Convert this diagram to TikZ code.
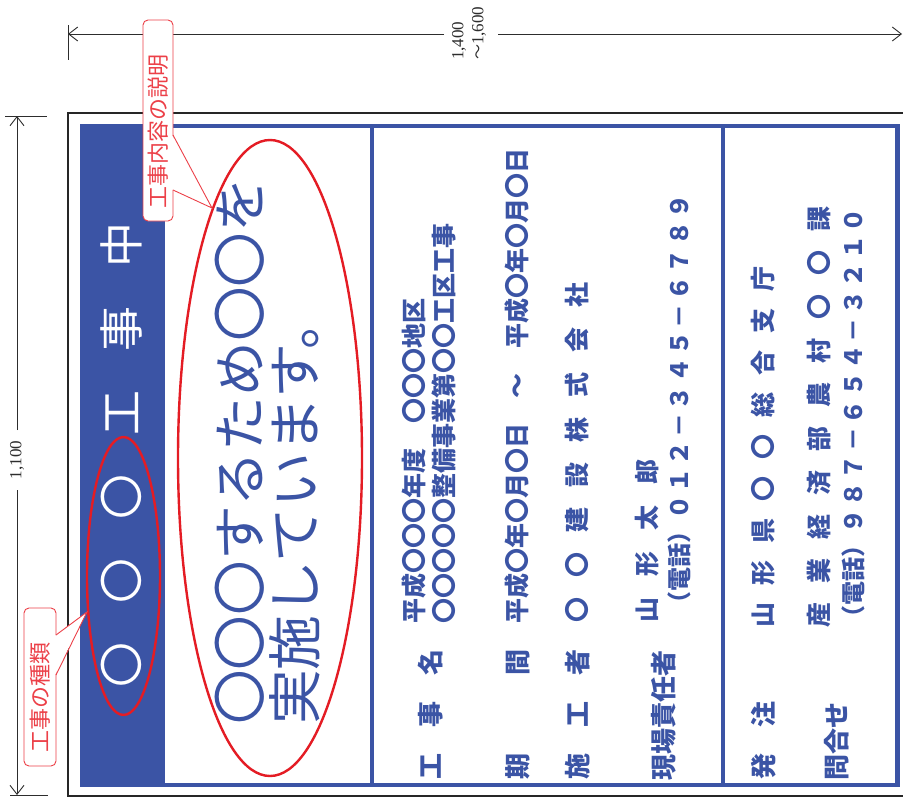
\documentclass[tikz,border=0pt]{standalone}
\usepackage{fontspec}
\setmainfont{Liberation Serif}
\newfontfamily\jp{Noto Sans CJK JP}
\usetikzlibrary{arrows.meta}
\definecolor{signblue}{RGB}{59,84,165}
\definecolor{markred}{RGB}{228,28,36}
\definecolor{callred}{RGB}{236,64,72}
\definecolor{dimgray}{RGB}{45,45,45}
\newcommand\fsz[1]{\fontsize{#1}{#1}\selectfont}
\newcommand\gapw[1]{\hspace{#1pt}}
\begin{document}
\begin{tikzpicture}[x=1pt,y=-1pt,
  dimline/.style={draw=dimgray,line width=0.9pt},
  dimtip/.style={dimline,-{Straight Barb[length=9pt,width=14pt]}},
  dimtext/.style={rotate=90,inner sep=0pt,text=dimgray,font=\fontsize{17}{20}\selectfont},
  rottxt/.style={rotate=90,anchor=base west,inner sep=0pt},
  labtxt/.style={rottxt,text=signblue,font=\jp\bfseries\fsz{26}},
  valtxt/.style={rottxt,text=signblue,font=\jp\bfseries\fsz{25}},
  teltxt/.style={rottxt,text=signblue,font=\jp\bfseries\fsz{24}},
  callbox/.style={draw=callred,fill=white,line width=0.9pt,rounded corners=5pt},
  calltext/.style={rotate=90,inner sep=0pt,text=callred,font=\jp\fsz{22}},
  redmark/.style={draw=markred,line width=2.4pt}
]
\useasboundingbox (0,0) rectangle (903,798);
\fill[white] (0,0) rectangle (903,798);

% outer black frame
\draw[line width=1.1pt,black!85] (910,113) -- (68,113) -- (68,796) -- (910,796);

% sign
\fill[signblue] (80,124) rectangle (165,787);
\draw[signblue,line width=4.2pt] (82,126) rectangle (897.5,785);
\draw[signblue,line width=4pt] (372,126) -- (372,785);
\draw[signblue,line width=4pt] (723,126) -- (723,785);

% title in blue bar
\node[rottxt,text=white,font=\jp\fsz{45}] (title) at (138,688)
  {〇\gapw{39}〇\gapw{39}〇\gapw{39}工\gapw{39}事\gapw{39}中};

% description
\node[rottxt,text=signblue,font=\jp\fsz{54.7}] (desc1) at (260.8,725) {〇〇〇するため〇〇を};
\node[rottxt,text=signblue,font=\jp\fsz{54.7}] (desc2) at (315.8,725) {実施しています。};

% table labels
\node[labtxt] (l1) at (440,780) {工　事　名};
\node[labtxt] (l2) at (527,780) {期　　　間};
\node[labtxt] (l3) at (587,780) {施　工　者};
\node[labtxt] (l4) at (673,781) {現場責任者};
\node[labtxt] (l5) at (773,780) {発　注};
\node[labtxt] (l6) at (846,781) {問合せ};

% table values
\node[valtxt] (v1a) at (423.5,624) {平成〇〇〇年度　〇〇〇地区};
\node[valtxt] (v1b) at (453.5,624) {〇〇〇〇〇整備事業第〇〇工区工事};
\node[valtxt] (v2) at (526.5,624) {平成〇年〇月〇日　～　平成〇年〇月〇日};
\node[valtxt] (v3) at (586.5,623) {〇\gapw{20}〇\gapw{20}建\gapw{20}設\gapw{20}株\gapw{20}式\gapw{20}会\gapw{20}社};
\node[valtxt] (v4) at (656.5,623) {山\gapw{21}形\gapw{21}太\gapw{21}郎};
\node[teltxt] (t4) at (688,616) {（電話）０\gapw{3.4}１\gapw{3.4}２\gapw{3.4}－\gapw{3.4}３\gapw{3.4}４\gapw{3.4}５\gapw{3.4}－\gapw{3.4}６\gapw{3.4}７\gapw{3.4}８\gapw{3.4}９};
\node[valtxt] (v5) at (772.5,628) {山\gapw{17}形\gapw{17}県\gapw{17}〇\gapw{17}〇\gapw{17}総\gapw{17}合\gapw{17}支\gapw{17}庁};
\node[valtxt] (v6a) at (828.5,628) {産\gapw{19}業\gapw{19}経\gapw{19}済\gapw{19}部\gapw{19}農\gapw{19}村\gapw{19}〇\gapw{19}〇\gapw{19}課};
\node[teltxt] (t6) at (862,630) {（電話）９\gapw{3.4}８\gapw{3.4}７\gapw{3.4}－\gapw{3.4}６\gapw{3.4}５\gapw{3.4}４\gapw{3.4}－\gapw{3.4}３\gapw{3.4}２\gapw{3.4}１\gapw{3.4}０};

% red marks
\draw[redmark] (123.5,576) ellipse [x radius=36.5pt,y radius=139pt];
\draw[redmark] (270,458) ellipse [x radius=92pt,y radius=318pt];

% width dimension
\coordinate (wl) at (68,34);
\coordinate (wr) at (902,34);
\draw[dimline] (68,25) -- (68,60);
\node[dimtext,align=left,anchor=west] (wlab) at (469,60) {1,400\\{\jp\fontsize{15}{20}\selectfont ～}1,600};
\draw[dimtip] (444,34) -- (wl);
\draw[dimtip] (498,34) -- (wr);

% height dimension
\coordinate (ht) at (17,116);
\coordinate (hb) at (17,795);
\draw[dimline] (5,116) -- (47,116);
\draw[dimline] (10,795) -- (48,795);
\node[dimtext] (hlab) at (17,460) {1,100};
\draw[dimtip] (17,430) -- (ht);
\draw[dimtip] (17,490) -- (hb);

% callout: work content
\draw[callbox] (143,20) rectangle (173,221);
\fill[white] (172.2,135.5) -- (212,208) -- (172.2,189.5) -- cycle;
\draw[draw=callred,line width=0.9pt] (173,135) -- (212,208) -- (173,190);
\node[calltext] (c1) at (158,131) {工事内容の説明};

% callout: work type
\draw[callbox] (24,608) rectangle (56,766);
\fill[white] (55.2,635.5) -- (87,612) -- (55.2,674.5) -- cycle;
\draw[draw=callred,line width=0.9pt] (56,635) -- (87,612) -- (56,675);
\node[calltext] (c2) at (40,697) {工事の種類};
\end{tikzpicture}
\end{document}
